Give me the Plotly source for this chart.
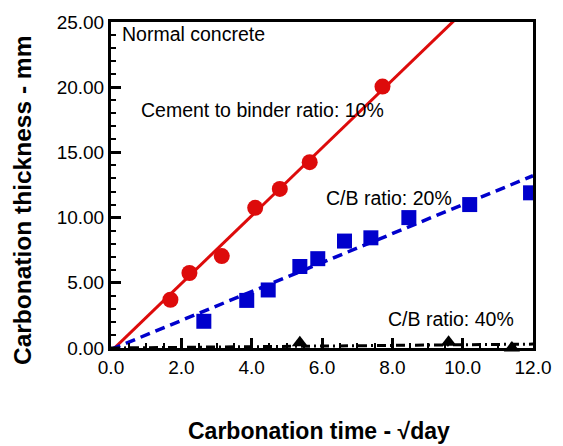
import numpy as np
import plotly.graph_objects as go

# Data
red_x = [1.69, 2.23, 3.15, 4.10, 4.80, 5.65, 7.72]
red_y = [3.70, 5.75, 7.05, 10.75, 12.20, 14.25, 20.05]

blue_x = [2.64, 3.86, 4.47, 5.37, 5.88, 6.64, 7.39, 8.47, 10.20, 11.93]
blue_y = [2.05, 3.65, 4.45, 6.25, 6.85, 8.20, 8.45, 10.00, 11.00, 11.90]

black_x = [5.37, 9.60, 11.40]
black_y = [0.40, 0.45, 0.00]

# Linear fits (slope, intercept)
red_fit = (2.60, -0.26)
blue_fit = (1.11, -0.11)
black_fit = (0.025, 0.0)

x_range = [0, 12]
y_range = [0, 25]

labels = {
    "normal": "Normal concrete",
    "r10": "Cement to binder ratio: 10%",
    "r20": "C/B ratio: 20%",
    "r40": "C/B ratio: 40%",
}
x_title = "<b>Carbonation time - √day</b>"
y_title = "<b>Carbonation thickness - mm</b>"

RED = "#dd0b0b"
BLUE = "#0000cc"
FONT = "Liberation Sans, Arial, sans-serif"

xl = np.linspace(x_range[0], x_range[1], 200)

fig = go.Figure()
fig.add_trace(go.Scatter(x=xl, y=red_fit[0] * xl + red_fit[1], mode="lines",
                         line=dict(color=RED, width=3), hoverinfo="skip"))
fig.add_trace(go.Scatter(x=xl, y=blue_fit[0] * xl + blue_fit[1], mode="lines",
                         line=dict(color=BLUE, width=3.5, dash="10px,6px"), hoverinfo="skip"))
fig.add_trace(go.Scatter(x=xl, y=black_fit[0] * xl + black_fit[1], mode="lines",
                         line=dict(color="black", width=3, dash="9px,4px,2px,4px"), hoverinfo="skip"))

fig.add_trace(go.Scatter(x=red_x, y=red_y, mode="markers",
                         marker=dict(symbol="circle", size=16, color=RED)))
fig.add_trace(go.Scatter(x=blue_x, y=blue_y, mode="markers",
                         marker=dict(symbol="square", size=15, color=BLUE)))
fig.add_trace(go.Scatter(x=black_x, y=black_y, mode="markers", cliponaxis=False,
                         marker=dict(symbol="triangle-up", size=14, color="black")))

ann_font = dict(family=FONT, size=19.5, color="black")
fig.add_annotation(x=0.25, y=24.05, text=labels["normal"], showarrow=False,
                   xanchor="left", yanchor="middle", font=ann_font)
fig.add_annotation(x=0.8, y=18.25, text=labels["r10"], showarrow=False,
                   xanchor="left", yanchor="middle", font=ann_font)
fig.add_annotation(x=6.05, y=11.5, text=labels["r20"], showarrow=False,
                   xanchor="left", yanchor="middle", font=ann_font)
fig.add_annotation(x=7.82, y=2.2, text=labels["r40"], showarrow=False,
                   xanchor="left", yanchor="middle", font=ann_font)

# Axis titles as annotations for precise placement
fig.add_annotation(x=0.493, y=-0.255, xref="paper", yref="paper", text=x_title,
                   showarrow=False, xanchor="center", yanchor="middle",
                   font=dict(family=FONT, size=23, color="black"))
fig.add_annotation(x=-0.21, y=0.452, xref="paper", yref="paper", text=y_title,
                   showarrow=False, xanchor="center", yanchor="middle", textangle=-90,
                   font=dict(family=FONT, size=24.5, color="black"))

fig.update_layout(
    width=563, height=446,
    margin=dict(l=111, r=28, t=18, b=98),
    paper_bgcolor="white", plot_bgcolor="white",
    showlegend=False,
    font=dict(family=FONT, size=19, color="black"),
)

fig.update_xaxes(
    range=x_range, dtick=2, tick0=0, tickformat=".1f",
    showgrid=False, zeroline=False,
    showline=True, linecolor="black", linewidth=3, mirror=True,
    ticks="inside", ticklen=10, tickwidth=2.5, tickcolor="black",
    minor=dict(dtick=0.5, ticks="inside", ticklen=5, tickwidth=2, tickcolor="black", showgrid=False),
    tickfont=dict(family=FONT, size=19),
)
fig.update_yaxes(
    range=y_range, dtick=5, tick0=0, tickformat=".2f",
    showgrid=False, zeroline=False,
    showline=True, linecolor="black", linewidth=3, mirror=True,
    ticks="inside", ticklen=10, tickwidth=2.5, tickcolor="black",
    minor=dict(dtick=1, ticks="inside", ticklen=5, tickwidth=2, tickcolor="black", showgrid=False),
    tickfont=dict(family=FONT, size=19),
)

fig.write_html("out.html")
